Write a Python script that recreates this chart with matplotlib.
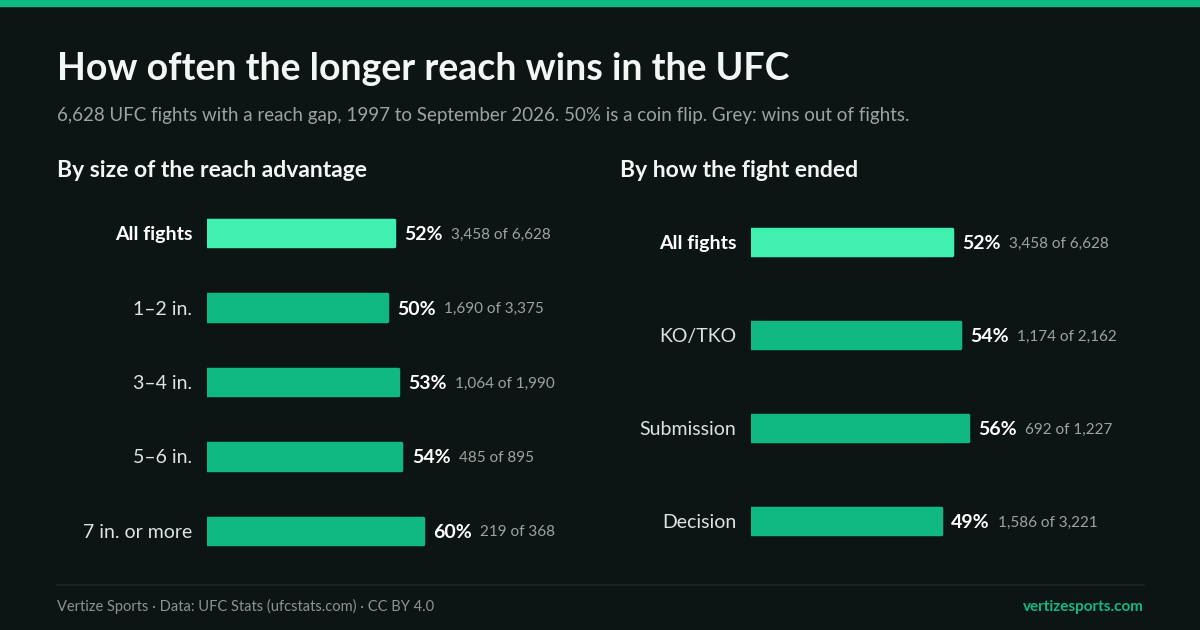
import matplotlib.pyplot as plt
from matplotlib.patches import Rectangle

plt.rcParams['font.family'] = ['Lato', 'DejaVu Sans']

# data
size_labels = ['All fights', '1–2 in.', '3–4 in.', '5–6 in.', '7 in. or more']
size_pct = [52, 50, 53, 54, 60]
size_wins = ['3,458', '1,690', '1,064', '485', '219']
size_fights = ['6,628', '3,375', '1,990', '895', '368']

end_labels = ['All fights', 'KO/TKO', 'Submission', 'Decision']
end_pct = [52, 54, 56, 49]
end_wins = ['3,458', '1,174', '692', '1,586']
end_fights = ['6,628', '2,162', '1,227', '3,221']

BG = '#0c1513'
GREEN = '#10b981'
BRIGHT = '#3ff0b0'
GREY = '#9aa5a0'
W, H = 1200, 630

fig = plt.figure(figsize=(12, 6.3), dpi=100, facecolor=BG)


def fx(px):
    return px / W


def fy(py):
    return 1 - py / H


# top strip
fig.patches.append(Rectangle((0, fy(6)), 1, 6 / H, transform=fig.transFigure,
                             color=GREEN, zorder=5))

fig.text(fx(57), fy(66), 'How often the longer reach wins in the UFC',
         color='#f2f6f4', fontsize=27, fontweight='bold', va='center_baseline')
fig.text(fx(57), fy(114),
         '6,628 UFC fights with a reach gap, 1997 to September 2026. 50% is a coin flip. '
         'Grey: wins out of fights.',
         color=GREY, fontsize=13.5, va='center_baseline')

fig.text(fx(57), fy(169), 'By size of the reach advantage', color='#f2f6f4',
         fontsize=16.5, fontweight='bold', va='center_baseline')
fig.text(fx(620), fy(169), 'By how the fight ended', color='#f2f6f4',
         fontsize=16.5, fontweight='bold', va='center_baseline')


def panel(x0, x1, y0, y1, labels, pct, wins, fights, bar_px):
    ax = fig.add_axes([fx(x0), fy(y1), fx(x1 - x0), (y1 - y0) / H])
    ax.set_facecolor('none')
    n = len(labels)
    ys = list(range(n))
    row_px = (y1 - y0) / n
    hgt = bar_px / row_px
    colors = [BRIGHT] + [GREEN] * (n - 1)
    # thick round-joined edge gives the small rounded corners
    ax.barh(ys, pct, height=hgt, color=colors, edgecolor=colors, linewidth=2.5,
            joinstyle='round')
    ax.set_xlim(0, 100)
    ax.set_ylim(n - 0.5, -0.5)
    ax.axis('off')
    fig.canvas.draw()
    r = fig.canvas.get_renderer()
    for i, lab in enumerate(labels):
        bold = i == 0
        ax.annotate(lab, (0, i), xytext=(-10.5, 0), textcoords='offset points',
                    ha='right', va='center_baseline', fontsize=14,
                    fontweight='bold' if bold else 'normal',
                    color='#ffffff' if bold else '#dde4e1')
        t = ax.annotate(f'{pct[i]}%', (pct[i], i), xytext=(7.5, 0),
                        textcoords='offset points', ha='left', va='center_baseline',
                        fontsize=14, fontweight='bold', color='#ffffff')
        bb = t.get_window_extent(renderer=r)
        wpt = bb.width * 72 / fig.dpi
        ax.annotate(f'{wins[i]} of {fights[i]}', (pct[i], i),
                    xytext=(7.5 + wpt + 6, 0), textcoords='offset points',
                    ha='left', va='center_baseline', fontsize=11, color=GREY)
    return ax


panel(207, 567, 196, 568, size_labels, size_pct, size_wins, size_fights, 26.5)
panel(751, 1138, 195.5, 567.5, end_labels, end_pct, end_wins, end_fights, 26.5)

# footer
fig.add_artist(plt.Line2D([fx(57), fx(1144)], [fy(585), fy(585)],
                          color='#1c2623', linewidth=1.2))
fig.text(fx(57), fy(605), 'Vertize Sports · Data: UFC Stats (ufcstats.com) · CC BY 4.0',
         color='#8a9590', fontsize=10.5, va='center_baseline')
fig.text(fx(1144), fy(605), 'vertizesports.com', color=GREEN, fontsize=11,
         fontweight='bold', va='center_baseline', ha='right')

fig.savefig('out.png', dpi=100, facecolor=BG)
